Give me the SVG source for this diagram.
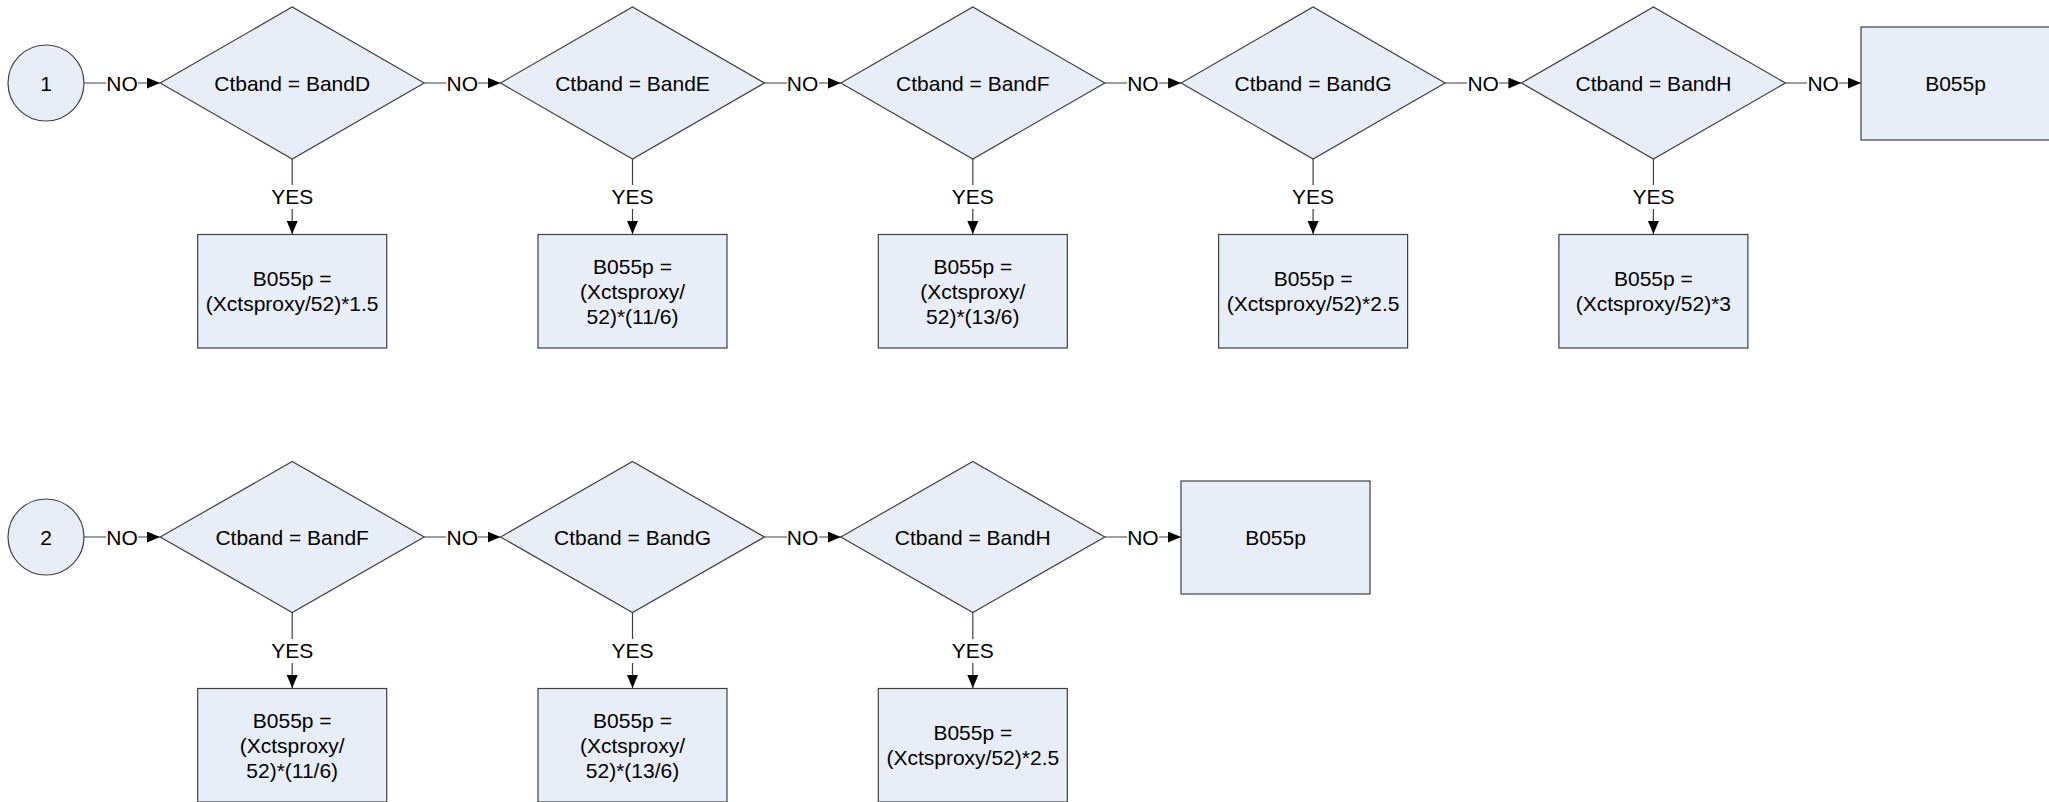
<svg xmlns="http://www.w3.org/2000/svg" width="2049" height="802" viewBox="0 0 2049 802">
<defs>
<marker id="arr" markerUnits="userSpaceOnUse" markerWidth="14" markerHeight="12" refX="13" refY="5.5" orient="auto">
<path d="M0,0 L13,5.5 L0,11 z" fill="#000"/>
</marker>
<style>
.shape{fill:#E8EEF8;stroke:#404040;stroke-width:1.2}
.t{font-family:"Liberation Sans",Arial,sans-serif;font-size:21px;fill:#000;text-anchor:middle}
.c{stroke:#404040;stroke-width:1.2;fill:none;marker-end:url(#arr)}
.lb{fill:#fff}
</style>
</defs>
<rect width="2049" height="802" fill="#fff"/>
<g id="connectors">
<!-- row 1 -->
<line class="c" x1="84" y1="83" x2="160" y2="83"/>
<line class="c" x1="424.2" y1="83" x2="500.5" y2="83"/>
<line class="c" x1="764.5" y1="83" x2="840.8" y2="83"/>
<line class="c" x1="1104.8" y1="83" x2="1181.1" y2="83"/>
<line class="c" x1="1445.1" y1="83" x2="1521.4" y2="83"/>
<line class="c" x1="1785.4" y1="83" x2="1861" y2="83"/>
<line class="c" x1="292.2" y1="159" x2="292.2" y2="234"/>
<line class="c" x1="632.5" y1="159" x2="632.5" y2="234"/>
<line class="c" x1="972.8" y1="159" x2="972.8" y2="234"/>
<line class="c" x1="1313.1" y1="159" x2="1313.1" y2="234"/>
<line class="c" x1="1653.4" y1="159" x2="1653.4" y2="234"/>
<!-- row 2 -->
<line class="c" x1="84" y1="537" x2="160" y2="537"/>
<line class="c" x1="424.2" y1="537" x2="500.5" y2="537"/>
<line class="c" x1="764.5" y1="537" x2="840.8" y2="537"/>
<line class="c" x1="1104.8" y1="537" x2="1181" y2="537"/>
<line class="c" x1="292.2" y1="613" x2="292.2" y2="688"/>
<line class="c" x1="632.5" y1="613" x2="632.5" y2="688"/>
<line class="c" x1="972.8" y1="613" x2="972.8" y2="688"/>
<!-- labels -->
<g>
<rect class="lb" x="106" y="72" width="32" height="22"/><text class="t" x="122" y="90.5">NO</text>
<rect class="lb" x="446" y="72" width="32" height="22"/><text class="t" x="462.3" y="90.5">NO</text>
<rect class="lb" x="787" y="72" width="32" height="22"/><text class="t" x="802.6" y="90.5">NO</text>
<rect class="lb" x="1127" y="72" width="32" height="22"/><text class="t" x="1142.9" y="90.5">NO</text>
<rect class="lb" x="1467" y="72" width="32" height="22"/><text class="t" x="1483.2" y="90.5">NO</text>
<rect class="lb" x="1807" y="72" width="32" height="22"/><text class="t" x="1823.2" y="90.5">NO</text>
<rect class="lb" x="270" y="185" width="44" height="24"/><text class="t" x="292.2" y="204">YES</text>
<rect class="lb" x="610" y="185" width="44" height="24"/><text class="t" x="632.5" y="204">YES</text>
<rect class="lb" x="951" y="185" width="44" height="24"/><text class="t" x="972.8" y="204">YES</text>
<rect class="lb" x="1291" y="185" width="44" height="24"/><text class="t" x="1313.1" y="204">YES</text>
<rect class="lb" x="1631" y="185" width="44" height="24"/><text class="t" x="1653.4" y="204">YES</text>
<rect class="lb" x="106" y="526" width="32" height="22"/><text class="t" x="122" y="544.5">NO</text>
<rect class="lb" x="446" y="526" width="32" height="22"/><text class="t" x="462.3" y="544.5">NO</text>
<rect class="lb" x="787" y="526" width="32" height="22"/><text class="t" x="802.6" y="544.5">NO</text>
<rect class="lb" x="1127" y="526" width="32" height="22"/><text class="t" x="1142.9" y="544.5">NO</text>
<rect class="lb" x="270" y="639" width="44" height="24"/><text class="t" x="292.2" y="658">YES</text>
<rect class="lb" x="610" y="639" width="44" height="24"/><text class="t" x="632.5" y="658">YES</text>
<rect class="lb" x="951" y="639" width="44" height="24"/><text class="t" x="972.8" y="658">YES</text>
</g>
</g>
<!-- Row 1 nodes -->
<g id="start1"><circle class="shape" cx="46" cy="83" r="38"/><text class="t" x="46" y="90.5">1</text></g>
<g id="d1"><polygon class="shape" points="160.2,83 292.2,7 424.2,83 292.2,159"/><text class="t" x="292.2" y="90.5">Ctband = BandD</text></g>
<g id="d2"><polygon class="shape" points="500.5,83 632.5,7 764.5,83 632.5,159"/><text class="t" x="632.5" y="90.5">Ctband = BandE</text></g>
<g id="d3"><polygon class="shape" points="840.8,83 972.8,7 1104.8,83 972.8,159"/><text class="t" x="972.8" y="90.5">Ctband = BandF</text></g>
<g id="d4"><polygon class="shape" points="1181.1,83 1313.1,7 1445.1,83 1313.1,159"/><text class="t" x="1313.1" y="90.5">Ctband = BandG</text></g>
<g id="d5"><polygon class="shape" points="1521.4,83 1653.4,7 1785.4,83 1653.4,159"/><text class="t" x="1653.4" y="90.5">Ctband = BandH</text></g>
<g id="end1"><rect class="shape" x="1861" y="27" width="189" height="113"/><text class="t" x="1955.5" y="90.5">B055p</text></g>
<g id="b1"><rect class="shape" x="197.7" y="234.5" width="189" height="113.5"/><text class="t" x="292.2" y="286">B055p =</text><text class="t" x="292.2" y="311">(Xctsproxy/52)*1.5</text></g>
<g id="b2"><rect class="shape" x="538" y="234.5" width="189" height="113.5"/><text class="t" x="632.5" y="274">B055p =</text><text class="t" x="632.5" y="299">(Xctsproxy/</text><text class="t" x="632.5" y="324">52)*(11/6)</text></g>
<g id="b3"><rect class="shape" x="878.3" y="234.5" width="189" height="113.5"/><text class="t" x="972.8" y="274">B055p =</text><text class="t" x="972.8" y="299">(Xctsproxy/</text><text class="t" x="972.8" y="324">52)*(13/6)</text></g>
<g id="b4"><rect class="shape" x="1218.6" y="234.5" width="189" height="113.5"/><text class="t" x="1313.1" y="286">B055p =</text><text class="t" x="1313.1" y="311">(Xctsproxy/52)*2.5</text></g>
<g id="b5"><rect class="shape" x="1558.9" y="234.5" width="189" height="113.5"/><text class="t" x="1653.4" y="286">B055p =</text><text class="t" x="1653.4" y="311">(Xctsproxy/52)*3</text></g>
<!-- Row 2 nodes -->
<g id="start2"><circle class="shape" cx="46" cy="537" r="38"/><text class="t" x="46" y="544.5">2</text></g>
<g id="e1"><polygon class="shape" points="160.2,537 292.2,461.5 424.2,537 292.2,612.5"/><text class="t" x="292.2" y="544.5">Ctband = BandF</text></g>
<g id="e2"><polygon class="shape" points="500.5,537 632.5,461.5 764.5,537 632.5,612.5"/><text class="t" x="632.5" y="544.5">Ctband = BandG</text></g>
<g id="e3"><polygon class="shape" points="840.8,537 972.8,461.5 1104.8,537 972.8,612.5"/><text class="t" x="972.8" y="544.5">Ctband = BandH</text></g>
<g id="end2"><rect class="shape" x="1181" y="481" width="189" height="113"/><text class="t" x="1275.5" y="544.5">B055p</text></g>
<g id="c1"><rect class="shape" x="197.7" y="688.5" width="189" height="113.5"/><text class="t" x="292.2" y="728">B055p =</text><text class="t" x="292.2" y="753">(Xctsproxy/</text><text class="t" x="292.2" y="778">52)*(11/6)</text></g>
<g id="c2"><rect class="shape" x="538" y="688.5" width="189" height="113.5"/><text class="t" x="632.5" y="728">B055p =</text><text class="t" x="632.5" y="753">(Xctsproxy/</text><text class="t" x="632.5" y="778">52)*(13/6)</text></g>
<g id="c3"><rect class="shape" x="878.3" y="688.5" width="189" height="113.5"/><text class="t" x="972.8" y="740">B055p =</text><text class="t" x="972.8" y="765">(Xctsproxy/52)*2.5</text></g>
</svg>
